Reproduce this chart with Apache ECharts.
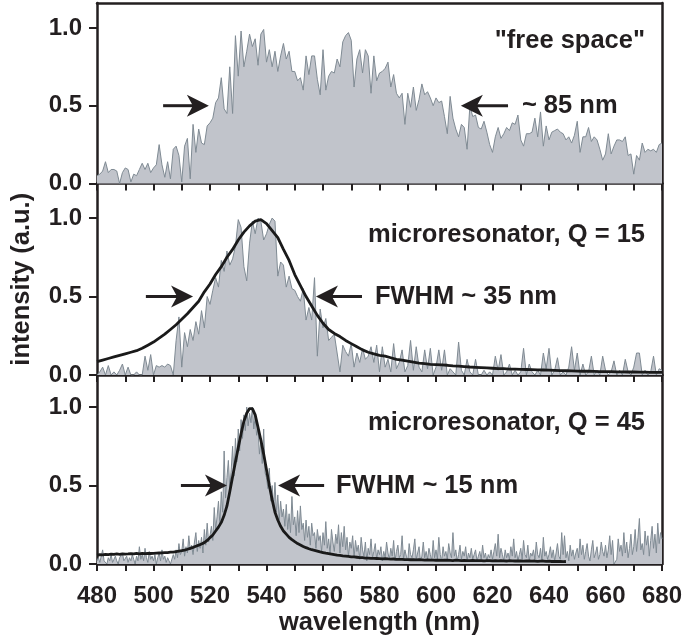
<!DOCTYPE html>
<html>
<head>
<meta charset="utf-8">
<script src="https://cdn.jsdelivr.net/npm/echarts@6/dist/echarts.min.js"></script>
<style>html,body{margin:0;padding:0;background:#fff;}#c{width:686px;height:639px;}</style>
</head>
<body>
<div id="c"></div>
<script>
// ---------- data ----------
const xMin = 480, xMax = 680;
const xTickLabels = [480, 500, 520, 540, 560, 580, 600, 620, 640, 660, 680];
const yTickValues = [0, 0.5, 1.0];

// "free space" spectrum, 480..680 nm, 1 nm step
const freeSpaceStart = 480, freeSpaceStep = 1;
const freeSpace = [
  0.05,0.06,0.08,0.14,0.07,0.09,0.09,0.08,0.00,0.07,
  0.10,0.09,0.01,0.06,0.05,0.09,0.13,0.09,0.13,0.07,
  0.10,0.12,0.25,0.12,0.04,0.14,0.03,0.22,0.24,0.18,
  0.01,0.24,0.29,0.03,0.38,0.20,0.35,0.26,0.25,0.37,
  0.39,0.42,0.52,0.55,0.68,0.48,0.45,0.75,0.45,0.95,
  0.69,0.98,0.75,0.85,0.96,0.88,0.93,0.76,0.96,0.99,
  0.78,0.86,0.75,0.85,0.72,0.82,0.90,0.80,0.85,0.72,
  0.72,0.66,0.68,0.60,0.82,0.70,0.82,0.82,0.67,0.57,
  0.86,0.60,0.69,0.72,0.71,0.80,0.75,0.91,0.95,0.97,
  0.92,0.62,0.80,0.86,0.71,0.86,0.82,0.58,0.82,0.66,
  0.71,0.72,0.74,0.78,0.62,0.70,0.58,0.55,0.58,0.38,
  0.58,0.49,0.62,0.47,0.54,0.64,0.57,0.59,0.55,0.50,
  0.55,0.52,0.53,0.43,0.32,0.56,0.42,0.35,0.30,0.38,
  0.36,0.22,0.50,0.43,0.44,0.36,0.35,0.40,0.33,0.25,
  0.20,0.30,0.36,0.29,0.32,0.36,0.34,0.39,0.38,0.44,
  0.28,0.24,0.32,0.32,0.33,0.42,0.30,0.46,0.24,0.37,
  0.28,0.33,0.34,0.35,0.33,0.32,0.28,0.30,0.26,0.31,
  0.40,0.20,0.30,0.30,0.36,0.27,0.30,0.28,0.22,0.15,
  0.19,0.32,0.19,0.24,0.28,0.28,0.27,0.30,0.18,0.19,
  0.06,0.18,0.15,0.26,0.20,0.22,0.21,0.22,0.20,0.25,
  0.26
];

// microresonator Q = 15 spectrum, 480..680 nm, 1 nm step
const q15Start = 480, q15Step = 1;
const q15Spectrum = [
  0.00,0.02,0.05,0.00,0.06,0.00,0.02,0.00,0.03,0.07,
  0.00,0.05,0.00,0.00,0.02,0.00,0.00,0.12,0.03,0.13,
  0.00,0.06,0.05,0.06,0.05,0.07,0.06,0.00,0.22,0.37,
  0.05,0.27,0.18,0.29,0.22,0.34,0.26,0.41,0.30,0.50,
  0.45,0.54,0.62,0.56,0.73,0.66,0.79,0.70,0.74,0.82,
  0.99,0.94,0.69,0.60,0.84,0.98,0.90,1.00,0.98,0.86,
  0.90,0.96,1.00,0.98,0.63,0.72,0.70,0.56,0.63,0.55,
  0.54,0.50,0.47,0.55,0.35,0.43,0.35,0.62,0.12,0.42,
  0.30,0.36,0.22,0.24,0.26,0.14,0.02,0.19,0.15,0.12,
  0.20,0.05,0.14,0.08,0.17,0.10,0.12,0.18,0.08,0.19,
  0.02,0.18,0.05,0.10,0.02,0.20,0.04,0.08,0.16,0.02,
  0.06,0.22,0.03,0.18,0.05,0.02,0.16,0.04,0.17,0.00,
  0.05,0.16,0.03,0.16,0.00,0.04,0.02,0.00,0.21,0.03,
  0.00,0.10,0.02,0.00,0.10,0.00,0.00,0.03,0.00,0.02,
  0.00,0.12,0.03,0.13,0.00,0.02,0.07,0.00,0.03,0.00,
  0.02,0.17,0.00,0.07,0.02,0.00,0.03,0.00,0.14,0.04,
  0.17,0.00,0.03,0.11,0.00,0.02,0.00,0.05,0.18,0.03,
  0.14,0.00,0.07,0.00,0.02,0.12,0.00,0.03,0.00,0.12,
  0.03,0.00,0.02,0.09,0.00,0.03,0.00,0.10,0.02,0.00,
  0.05,0.14,0.14,0.00,0.03,0.00,0.02,0.12,0.00,0.04,
  0.03
];

// Q = 15 black curve, 480..680 nm, 2 nm step
const q15FitStart = 480, q15FitStep = 2;
const q15Fit = [
  0.085,0.095,0.105,0.115,0.125,0.135,0.145,0.155,0.17,0.19,
  0.21,0.235,0.26,0.29,0.32,0.355,0.39,0.43,0.47,0.53,
  0.58,0.64,0.69,0.75,0.80,0.86,0.91,0.95,0.98,0.99,
  0.965,0.92,0.875,0.80,0.73,0.64,0.57,0.50,0.44,0.38,
  0.33,0.29,0.265,0.245,0.22,0.20,0.18,0.16,0.145,0.135,
  0.125,0.12,0.11,0.10,0.095,0.088,0.082,0.076,0.072,0.068,
  0.066,0.064,0.062,0.058,0.056,0.054,0.051,0.049,0.047,0.045,
  0.043,0.041,0.04,0.038,0.037,0.036,0.035,0.034,0.033,0.032,
  0.031,0.03,0.028,0.027,0.026,0.025,0.024,0.024,0.023,0.022,
  0.021,0.021,0.02,0.02,0.019,0.019,0.018,0.018,0.017,0.017,
  0.017
];

// microresonator Q = 45 spectrum, 480..680 nm, 0.5 nm step
const q45Start = 480, q45Step = 0.5;
const q45Spectrum = [
  0.02,0.04,0.01,0.05,0.09,0.02,0.03,0.00,0.04,0.02,0.06,0.01,0.03,0.05,0.02,0.00,0.04,0.03,0.07,0.02,
  0.03,0.05,0.01,0.04,0.02,0.06,0.03,0.00,0.05,0.02,0.11,0.03,0.06,0.02,0.10,0.04,0.01,0.08,0.03,0.05,
  0.02,0.06,0.00,0.04,0.07,0.02,0.09,0.03,0.05,0.01,0.04,0.02,0.00,0.01,0.06,0.03,0.09,0.04,0.13,0.06,
  0.08,0.16,0.05,0.11,0.07,0.18,0.09,0.12,0.06,0.14,0.20,0.08,0.15,0.10,0.17,0.07,0.22,0.12,0.26,0.14,
  0.18,0.24,0.15,0.36,0.22,0.30,0.40,0.25,0.46,0.33,0.72,0.42,0.55,0.66,0.48,0.60,0.75,0.56,0.80,0.65,
  0.86,0.72,0.92,0.80,0.95,0.85,1.00,0.88,0.96,0.90,1.00,0.86,0.94,0.82,0.86,0.70,0.78,0.64,0.86,0.58,
  0.55,0.48,0.61,0.40,0.50,0.36,0.52,0.33,0.44,0.28,0.40,0.30,0.35,0.24,0.38,0.22,0.32,0.20,0.43,0.25,
  0.30,0.18,0.34,0.20,0.37,0.22,0.26,0.15,0.28,0.17,0.24,0.12,0.26,0.18,0.20,0.10,0.22,0.15,0.18,0.08,
  0.20,0.12,0.27,0.10,0.16,0.06,0.22,0.14,0.08,0.19,0.13,0.25,0.07,0.20,0.11,0.24,0.09,0.17,0.05,0.14,
  0.10,0.18,0.04,0.15,0.08,0.12,0.03,0.17,0.09,0.05,0.14,0.02,0.10,0.06,0.16,0.04,0.08,0.13,0.03,0.09,
  0.06,0.11,0.02,0.08,0.04,0.14,0.07,0.03,0.10,0.05,0.15,0.02,0.08,0.12,0.04,0.06,0.18,0.03,0.09,0.05,
  0.02,0.13,0.06,0.04,0.09,0.16,0.03,0.07,0.11,0.02,0.05,0.14,0.04,0.08,0.03,0.10,0.06,0.02,0.15,0.04,
  0.09,0.03,0.17,0.06,0.02,0.11,0.05,0.08,0.03,0.13,0.07,0.04,0.20,0.05,0.09,0.02,0.06,0.12,0.03,0.08,
  0.05,0.11,0.02,0.07,0.04,0.10,0.03,0.06,0.09,0.02,0.05,0.08,0.03,0.12,0.04,0.07,0.02,0.06,0.04,0.09,
  0.03,0.08,0.13,0.05,0.19,0.04,0.10,0.06,0.02,0.09,0.04,0.07,0.03,0.11,0.05,0.16,0.04,0.08,0.02,0.06,
  0.10,0.03,0.15,0.06,0.04,0.12,0.02,0.07,0.05,0.09,0.03,0.14,0.06,0.04,0.10,0.02,0.17,0.05,0.08,0.03,
  0.06,0.11,0.04,0.09,0.02,0.07,0.13,0.05,0.03,0.20,0.06,0.18,0.04,0.08,0.02,0.12,0.05,0.09,0.03,0.07,
  0.10,0.04,0.16,0.06,0.12,0.03,0.08,0.13,0.05,0.02,0.09,0.15,0.04,0.07,0.11,0.03,0.06,0.14,0.08,0.05,
  0.12,0.04,0.09,0.18,0.06,0.15,0.00,0.00,0.03,0.16,0.08,0.12,0.05,0.20,0.07,0.14,0.04,0.10,0.19,0.06,
  0.11,0.22,0.08,0.17,0.29,0.09,0.13,0.06,0.21,0.12,0.18,0.05,0.15,0.24,0.10,0.19,0.07,0.26,0.13,0.20,
  0.16
];

// Q = 45 black curve, 480..646 nm, 1 nm step
const q45FitStart = 480, q45FitStep = 1;
const q45Fit = [
  0.057,0.060,0.058,0.062,0.060,0.063,0.061,0.064,0.062,0.065,
  0.063,0.064,0.066,0.064,0.067,0.065,0.068,0.066,0.068,0.067,
  0.068,0.069,0.070,0.071,0.072,0.073,0.075,0.076,0.079,0.082,
  0.085,0.089,0.094,0.100,0.106,0.113,0.120,0.128,0.136,0.150,
  0.168,0.185,0.210,0.235,0.265,0.310,0.370,0.460,0.556,0.650,
  0.740,0.830,0.910,0.960,0.990,0.990,0.950,0.870,0.790,0.700,
  0.600,0.500,0.410,0.330,0.280,0.240,0.210,0.190,0.170,0.155,
  0.142,0.130,0.121,0.112,0.104,0.097,0.091,0.087,0.082,0.077,
  0.073,0.069,0.066,0.063,0.060,0.057,0.055,0.052,0.050,0.048,
  0.046,0.045,0.043,0.041,0.040,0.038,0.037,0.036,0.036,0.035,
  0.034,0.033,0.034,0.032,0.031,0.032,0.030,0.029,0.030,0.028,
  0.028,0.027,0.028,0.026,0.027,0.026,0.025,0.026,0.025,0.025,
  0.024,0.025,0.023,0.024,0.024,0.023,0.022,0.024,0.023,0.022,
  0.023,0.022,0.021,0.023,0.022,0.021,0.022,0.020,0.021,0.022,
  0.020,0.021,0.020,0.022,0.020,0.019,0.021,0.020,0.019,0.020,
  0.019,0.018,0.020,0.019,0.018,0.019,0.017,0.018,0.019,0.017,
  0.018,0.016,0.017,0.016,0.017,0.015,0.016
];

// annotations (data coordinates)
const arrowSpecs = [
  {grid: 0, from: 503.4, to: 519.6, v: 0.5},
  {grid: 0, from: 625.5, to: 608.8, v: 0.5},
  {grid: 1, from: 497.3, to: 514.0, v: 0.5},
  {grid: 1, from: 573.8, to: 557.5, v: 0.5},
  {grid: 2, from: 509.7, to: 526.0, v: 0.5},
  {grid: 2, from: 560.4, to: 544.1, v: 0.5}
];
const textSpecs = [
  {grid: 0, x: 674, v: 0.917, text: '"free space"', align: 'right'},
  {grid: 0, x: 630.4, v: 0.5, text: '~ 85 nm', align: 'left'},
  {grid: 1, x: 674, v: 0.89, text: 'microresonator, Q = 15', align: 'right'},
  {grid: 1, x: 578.4, v: 0.5, text: 'FWHM ~ 35 nm', align: 'left'},
  {grid: 2, x: 674, v: 0.90, text: 'microresonator, Q = 45', align: 'right'},
  {grid: 2, x: 564.6, v: 0.5, text: 'FWHM ~ 15 nm', align: 'left'}
];

// ---------- chart ----------
const INK = '#231f20';
const FONT = '"Liberation Sans", Arial, Helvetica, sans-serif';
const FS_TICK = 24;
const FS_TEXT = 25.5;
const FILL = '#c1c4cb';
const EDGE = '#7f8a93';

function pairs(start, step, vals) {
  return vals.map((v, i) => [Math.round((start + i * step) * 100) / 100, v]);
}

const grids = [
  {left: 97, top: 3, width: 565, height: 180.5},
  {left: 97, top: 183.5, width: 565, height: 191.5},
  {left: 97, top: 375, width: 565, height: 189}
];
const yMax = [1.16, 1.22, 1.204];

const xAxes = [], yAxes = [];
for (let i = 0; i < 3; i++) {
  xAxes.push({
    type: 'value', gridIndex: i, min: xMin, max: xMax, interval: 10,
    axisLine: {show: true, onZero: false, lineStyle: {color: INK, width: 2.5}},
    axisTick: {show: true, length: 7, inside: false, lineStyle: {color: INK, width: 2}},
    axisLabel: {show: i === 2, customValues: xTickLabels, margin: 20,
      color: INK, fontFamily: FONT, fontWeight: 'bold', fontSize: FS_TICK},
    splitLine: {show: false},
    name: i === 2 ? 'wavelength (nm)' : '',
    nameLocation: 'middle', nameGap: 46,
    nameTextStyle: {color: INK, fontFamily: FONT, fontWeight: 'bold', fontSize: FS_TEXT}
  });
  yAxes.push({
    type: 'value', gridIndex: i, min: 0, max: yMax[i], position: 'left',
    axisLine: {show: true, onZero: false, lineStyle: {color: INK, width: 2.5}},
    axisTick: {show: true, length: 8, customValues: yTickValues, lineStyle: {color: INK, width: 2}},
    axisLabel: {show: true, customValues: yTickValues, margin: 15,
      formatter: v => v.toFixed(1),
      color: INK, fontFamily: FONT, fontWeight: 'bold', fontSize: FS_TICK},
    splitLine: {show: false},
    name: i === 1 ? 'intensity (a.u.)' : '',
    nameLocation: 'middle', nameGap: 62,
    nameTextStyle: {color: INK, fontFamily: FONT, fontWeight: 'bold', fontSize: FS_TEXT}
  });
  yAxes.push({
    type: 'value', gridIndex: i, min: 0, max: yMax[i], position: 'right',
    axisLine: {show: true, onZero: false, lineStyle: {color: INK, width: 2.5}},
    axisTick: {show: false}, axisLabel: {show: false}, splitLine: {show: false}
  });
}
// top frame line
xAxes.push({
  type: 'value', gridIndex: 0, min: xMin, max: xMax, position: 'top',
  axisLine: {show: true, onZero: false, lineStyle: {color: INK, width: 2.5}},
  axisTick: {show: false}, axisLabel: {show: false}, splitLine: {show: false}
});

function spectrum(i, data) {
  return {
    type: 'line', xAxisIndex: i, yAxisIndex: i * 2, data: data,
    symbol: 'none', silent: true, animation: false,
    lineStyle: {color: EDGE, width: 1},
    areaStyle: {color: FILL, opacity: 1}, z: 2
  };
}
function fit(i, data) {
  return {
    type: 'line', xAxisIndex: i, yAxisIndex: i * 2, data: data,
    symbol: 'none', silent: true, animation: false,
    lineStyle: {color: '#1a1a1a', width: 2.8}, z: 3
  };
}

const chart = echarts.init(document.getElementById('c'), null, {renderer: 'canvas'});
chart.setOption({
  backgroundColor: '#ffffff',
  animation: false,
  grid: grids,
  xAxis: xAxes,
  yAxis: yAxes,
  series: [
    spectrum(0, pairs(freeSpaceStart, freeSpaceStep, freeSpace)),
    spectrum(1, pairs(q15Start, q15Step, q15Spectrum)),
    fit(1, pairs(q15FitStart, q15FitStep, q15Fit)),
    spectrum(2, pairs(q45Start, q45Step, q45Spectrum)),
    fit(2, pairs(q45FitStart, q45FitStep, q45Fit))
  ]
});

// annotations positioned through the chart's own coordinate conversion
const graphics = [];
arrowSpecs.forEach(a => {
  const p0 = chart.convertToPixel({gridIndex: a.grid}, [a.from, a.v]);
  const p1 = chart.convertToPixel({gridIndex: a.grid}, [a.to, a.v]);
  const d = p1[0] > p0[0] ? 1 : -1;
  const y = p1[1];
  graphics.push({type: 'line', z: 10, silent: true,
    shape: {x1: p0[0], y1: y, x2: p1[0] - d * 14, y2: y},
    style: {stroke: INK, lineWidth: 3}});
  graphics.push({type: 'polygon', z: 10, silent: true,
    shape: {points: [[p1[0], y], [p1[0] - d * 22, y - 11], [p1[0] - d * 16, y], [p1[0] - d * 22, y + 11]]},
    style: {fill: INK}});
});
textSpecs.forEach(t => {
  const p = chart.convertToPixel({gridIndex: t.grid}, [t.x, t.v]);
  graphics.push({type: 'text', z: 10, silent: true, x: p[0], y: p[1],
    style: {text: t.text, fill: INK, fontFamily: FONT, fontWeight: 'bold', fontSize: FS_TEXT,
      align: t.align, verticalAlign: 'middle'}});
});
chart.setOption({graphic: graphics});
</script>
</body>
</html>
